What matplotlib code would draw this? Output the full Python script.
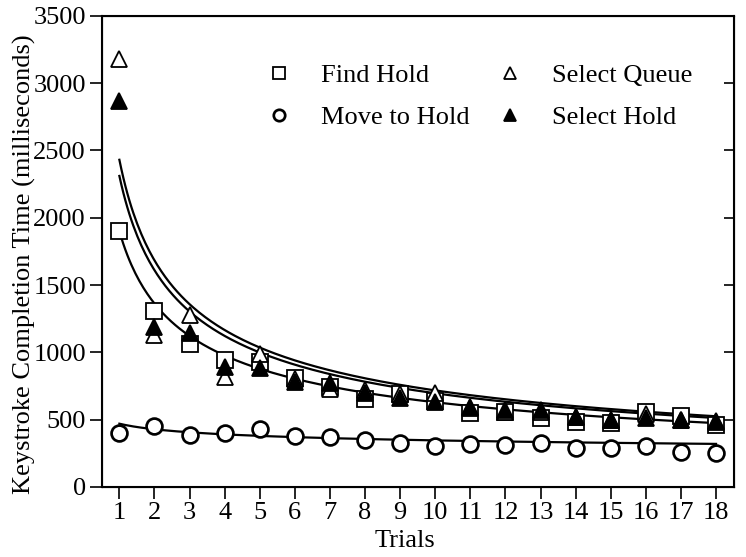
import numpy as np
import matplotlib
matplotlib.use("Agg")
import matplotlib.pyplot as plt

plt.rcParams['font.family'] = ['Liberation Serif', 'DejaVu Serif']

# ---- data ----
trials = list(range(1, 19))
find_hold = [1900, 1310, 1060, 940, 930, 810, 740, 650, 690, 640, 550, 560, 515, 480, 475, 560, 530, 460]
select_queue = [3180, 1130, 1280, 820, 990, 800, 730, 720, 690, 700, 590, 560, 560, 520, 500, 540, 500, 490]
select_hold = [2870, 1190, 1145, 890, 880, 780, 770, 700, 660, 630, 595, 570, 570, 520, 500, 510, 495, 485]
move_to_hold = [400, 455, 385, 400, 428, 380, 372, 350, 330, 305, 317, 312, 328, 292, 292, 305, 262, 255]

# power-law fit curves y = a * x^-b  (parameters)
fit_names = ["Select Queue", "Select Hold", "Find Hold", "Move to Hold"]
fit_a = [2430, 2310, 1900, 470]
fit_b = [0.530, 0.521, 0.480, 0.133]

y_ticks = [0, 500, 1000, 1500, 2000, 2500, 3000, 3500]

fig = plt.figure(figsize=(7.46, 5.57), dpi=100)
ax = fig.add_axes([0.1365, 0.1257, 0.9834 - 0.1365, 0.9718 - 0.1257])

xs = np.linspace(1, 18, 300)
for a, b in zip(fit_a, fit_b):
    ax.plot(xs, a * xs ** (-b), color='black', lw=1.6, zorder=2)

ms = 12
mew = 1.3
ax.plot(trials, find_hold, linestyle='none', marker='s', ms=ms * 0.95, mfc='white', mec='black', mew=mew,
        label='Find Hold', zorder=3)
ax.plot(trials, move_to_hold, linestyle='none', marker='o', ms=ms * 0.95, mfc='white', mec='black', mew=mew * 1.5,
        label='Move to Hold', zorder=3)
ax.plot(trials, select_queue, linestyle='none', marker='^', ms=ms, mfc='white', mec='black', mew=mew,
        label='Select Queue', zorder=4)
ax.plot(trials, select_hold, linestyle='none', marker='^', ms=ms, mfc='black', mec='black', mew=mew,
        label='Select Hold', zorder=5)

ax.set_xlim(0.5, 18.5)
ax.set_ylim(0, 3500)
ax.set_xticks(trials)
ax.set_yticks(y_ticks)
for s in ax.spines.values():
    s.set_linewidth(1.5)
ax.tick_params(axis='both', direction='out', length=8.5, width=1.2, labelsize=19, pad=3)
ax.tick_params(axis='x', pad=2)

ax2 = ax.twinx()
ax2.set_ylim(0, 3500)
ax2.set_yticks(y_ticks)
ax2.tick_params(axis='y', direction='in', length=7, width=1.2, labelright=False)

ax.set_xlabel('Trials', fontsize=19)
ax.set_ylabel('Keystroke Completion Time (milliseconds)', fontsize=19)
ax.yaxis.set_label_coords(-0.104, 0.472)
ax.xaxis.set_label_coords(0.48, -0.092)

leg = ax.legend(ncol=2, frameon=False, fontsize=19, markerscale=0.72,
                handlelength=2.0, handletextpad=0.6, columnspacing=0.52,
                labelspacing=0.7, borderpad=0, borderaxespad=0,
                loc='upper left', bbox_to_anchor=(252.6 / 746, 1 - 64 / 557),
                bbox_transform=fig.transFigure)

fig.savefig('out.png', dpi=100)
